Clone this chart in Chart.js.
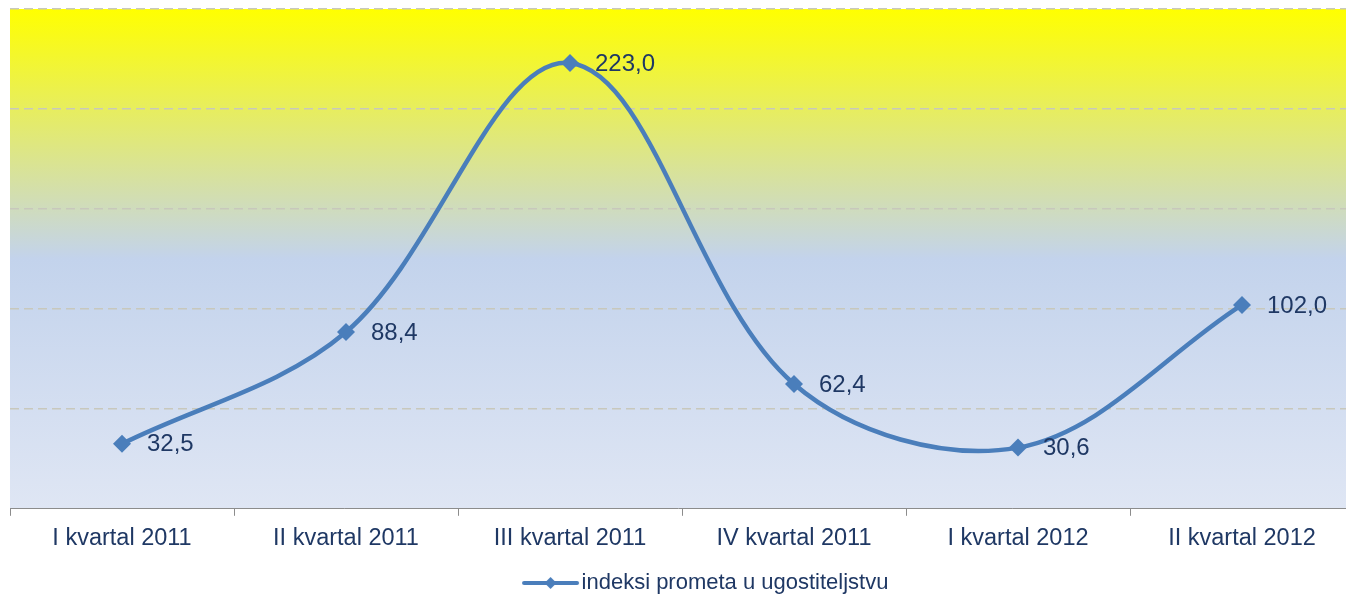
<!DOCTYPE html>
<html>
<head>
<meta charset="utf-8">
<script src="https://cdn.jsdelivr.net/npm/chart.js@4"></script>
<style>
  html, body { margin: 0; padding: 0; background: #fff; overflow: hidden; }
</style>
</head>
<body>
<canvas id="chart" width="1346" height="594"></canvas>
<script>
const categories = ['I kvartal 2011', 'II kvartal 2011', 'III kvartal 2011', 'IV kvartal 2011', 'I kvartal 2012', 'II kvartal 2012'];
const indexValues = [32.5, 88.4, 223.0, 62.4, 30.6, 102.0];
const seriesName = 'indeksi prometa u ugostiteljstvu';

const lineColor = '#4a7ebb';
const textColor = '#1f3864';
const fontFamily = '"Liberation Sans", Arial, sans-serif';

// legend marker: line with a diamond in the middle (left part left empty to shift it right)
const marker = document.createElement('canvas');
marker.width = 124;
marker.height = 16;
(() => {
  const c = marker.getContext('2d');
  c.strokeStyle = lineColor;
  c.lineWidth = 4;
  c.lineCap = 'round';
  c.beginPath();
  c.moveTo(67, 8);
  c.lineTo(120, 8);
  c.stroke();
  c.fillStyle = lineColor;
  c.beginPath();
  c.moveTo(93.5, 2); c.lineTo(99.5, 8); c.lineTo(93.5, 14); c.lineTo(87.5, 8);
  c.closePath();
  c.fill();
})();

// the plot in the original runs a few pixels past the right edge
const widenPlugin = {
  id: 'widenArea',
  afterLayout(chart) {
    const delta = chart.width + 8 - chart.chartArea.right;
    chart.chartArea.right += delta;
    chart.chartArea.width = chart.chartArea.right - chart.chartArea.left;
    const x = chart.scales.x;
    x.right += delta;
    x.width += delta;
    x.configure();
  }
};

const bgPlugin = {
  id: 'plotBg',
  beforeDraw(chart) {
    const { ctx, chartArea: a } = chart;
    const g = ctx.createLinearGradient(0, a.top, 0, a.bottom);
    g.addColorStop(0, '#ffff00');
    g.addColorStop(0.5, '#c3d3ec');
    g.addColorStop(1, '#dfe6f4');
    ctx.save();
    ctx.fillStyle = g;
    ctx.fillRect(a.left, a.top, a.right - a.left, a.bottom - a.top);
    ctx.restore();
  }
};

const labelPlugin = {
  id: 'valueLabels',
  afterDatasetsDraw(chart) {
    const { ctx } = chart;
    const meta = chart.getDatasetMeta(0);
    ctx.save();
    ctx.font = '24px ' + fontFamily;
    ctx.fillStyle = textColor;
    ctx.textAlign = 'left';
    ctx.textBaseline = 'middle';
    meta.data.forEach((pt, i) => {
      const txt = indexValues[i].toFixed(1).replace('.', ',');
      ctx.fillText(txt, pt.x + 25, pt.y + 1);
    });
    ctx.restore();
  }
};

new Chart(document.getElementById('chart').getContext('2d'), {
  type: 'line',
  data: {
    labels: categories,
    datasets: [{
      label: seriesName,
      data: indexValues,
      borderColor: lineColor,
      backgroundColor: lineColor,
      borderWidth: 4.5,
      tension: 0.35,
      pointStyle: 'rectRot',
      pointRadius: 9,
      pointHoverRadius: 9,
      pointBackgroundColor: lineColor,
      pointBorderColor: lineColor,
      pointBorderWidth: 0
    }]
  },
  options: {
    responsive: false,
    animation: false,
    layout: { padding: { left: 10, right: 0, top: 9, bottom: -10 } },
    plugins: {
      tooltip: { enabled: false },
      legend: {
        position: 'bottom',
        labels: {
          usePointStyle: true,
          pointStyle: marker,
          pointStyleWidth: 103,
          color: textColor,
          font: { family: fontFamily, size: 22 },
          padding: 1
        }
      }
    },
    scales: {
      x: {
        offset: true,
        afterFit: s => { s.height += 9; },
        grid: {
          offset: true,
          drawOnChartArea: false,
          drawTicks: true,
          tickLength: 7,
          color: '#8c8c8c'
        },
        border: { display: true, color: '#8c8c8c', width: 1 },
        ticks: {
          color: textColor,
          font: { family: fontFamily, size: 23.5 },
          padding: 9,
          maxRotation: 0,
          autoSkip: false
        }
      },
      y: {
        min: 0,
        max: 250,
        ticks: { display: false, stepSize: 50 },
        grid: {
          drawTicks: false,
          color: ctx => ctx.tick && ctx.tick.value === 0 ? 'rgba(0,0,0,0)' : '#c8c8bc',
          lineWidth: 1.5
        },
        border: { display: false, dash: [9, 5] }
      }
    }
  },
  plugins: [widenPlugin, bgPlugin, labelPlugin]
});
</script>
</body>
</html>
